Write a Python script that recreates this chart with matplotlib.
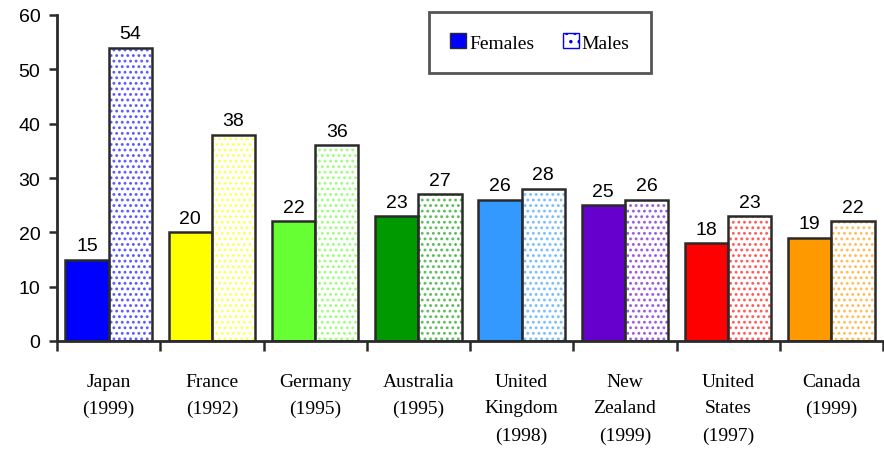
import matplotlib

matplotlib.use("Agg")
import matplotlib.pyplot as plt
import numpy as np
from matplotlib.patches import Patch

# --- data ----------------------------------------------------------------
countries = ["Japan\n(1999)", "France\n(1992)", "Germany\n(1995)", "Australia\n(1995)",
             "United\nKingdom\n(1998)", "New\nZealand\n(1999)", "United\nStates\n(1997)",
             "Canada\n(1999)"]
females = [15, 20, 22, 23, 26, 25, 18, 19]
males = [54, 38, 36, 27, 28, 26, 23, 22]
colors = ["#0000FF", "#FFFF00", "#66FF33", "#009900", "#3399FF", "#6600CC", "#FF0000", "#FF9900"]
# -------------------------------------------------------------------------

plt.rcParams["hatch.linewidth"] = 1.3
SERIF = "Liberation Serif"
SANS = "Liberation Sans"

fig = plt.figure(figsize=(8.84, 4.52), dpi=100)
ax = fig.add_axes([57 / 884, 110 / 452, 826 / 884, 326 / 452])

x = np.arange(len(countries))
w = 0.42
edge = "#2a2a2a"
for i, c in enumerate(colors):
    ax.bar(x[i] - w / 2, females[i], w, color=c, edgecolor=edge, linewidth=1.8, zorder=2)
    # dotted bar: hatch drawn in the country colour, outline drawn separately
    ax.bar(x[i] + w / 2, males[i], w, color="white", edgecolor=c, hatch="...",
           linewidth=0, zorder=2, alpha=0.6)
    ax.bar(x[i] + w / 2, males[i], w, fill=False, edgecolor=edge, linewidth=1.8, zorder=3)
    ax.text(x[i] - w / 2, females[i] + 1.0, str(females[i]), ha="center", va="bottom",
            fontsize=14, family=SANS)
    ax.text(x[i] + w / 2, males[i] + 1.0, str(males[i]), ha="center", va="bottom",
            fontsize=14, family=SANS)

ax.set_xlim(-0.5, len(countries) - 0.5)
ax.set_ylim(0, 60)
ax.set_yticks(range(0, 61, 10))
ax.tick_params(axis="y", labelsize=14, length=6, width=1.8, color=edge, pad=6)
for lab in ax.get_yticklabels():
    lab.set_family(SANS)

ax.set_xticks(np.arange(len(countries) + 1) - 0.5)
ax.set_xticklabels([])
ax.tick_params(axis="x", length=7, width=1.8, color=edge)
for i, name in enumerate(countries):
    ax.text(x[i], -5.8, name, ha="center", va="top", fontsize=14, family=SERIF,
            linespacing=1.75)

for side in ["top", "right"]:
    ax.spines[side].set_visible(False)
for side in ["left", "bottom"]:
    ax.spines[side].set_linewidth(2.0)
    ax.spines[side].set_color(edge)

handles = [Patch(facecolor="#0000FF", edgecolor=edge, label="Females"),
           Patch(facecolor="white", edgecolor="#0000FF", hatch="..", label="Males")]
leg = fig.legend(handles=handles, loc="upper center", bbox_to_anchor=(540 / 884, 1 - 13 / 452),
                 ncol=2, frameon=True, fancybox=False, edgecolor=edge,
                 prop={"family": SERIF, "size": 14}, handlelength=0.8, handleheight=0.8,
                 handletextpad=0.15, columnspacing=1.5, borderpad=1.1, borderaxespad=0)
leg.get_frame().set_linewidth(2.0)

fig.savefig("out.png", dpi=100)
